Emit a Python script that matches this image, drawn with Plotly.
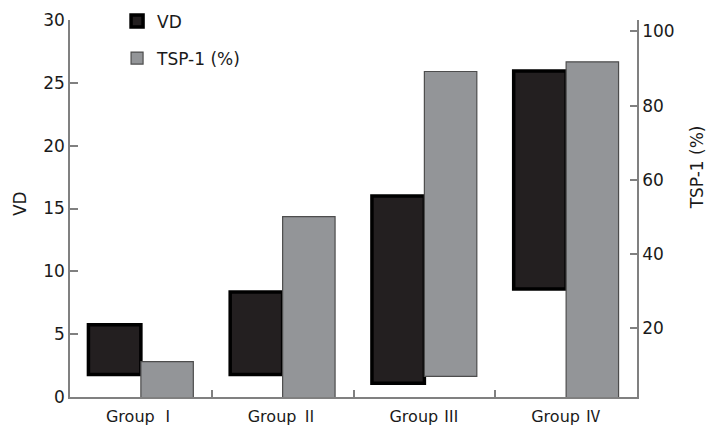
import plotly.graph_objects as go

groups = ["Group Ⅰ", "Group Ⅱ", "Group Ⅲ", "Group Ⅳ"]
vd_low = [1.8, 1.8, 1.1, 8.6]
vd_high = [5.75, 8.35, 16.0, 25.95]
tsp_low = [0, 0, 6.9, 0]
tsp_high = [10.9, 50.0, 89.2, 91.8]

left_ticks = [0, 5, 10, 15, 20, 25, 30]
right_ticks = [20, 40, 60, 80, 100]

FONT = "DejaVu Sans"
AXC = "#808080"


def tick_label(g):
    word, num = g.split(" ")
    return word + " <span style=\"font-family:'Noto Sans CJK SC'\">" + num + "</span>"


fig = go.Figure()
fig.add_trace(go.Bar(
    x=groups, y=[h - l for h, l in zip(vd_high, vd_low)], base=vd_low,
    name="VD", width=0.37, offset=-0.37,
    marker=dict(color="#231f20", line=dict(color="#000000", width=3.5)),
    legendgroup="a", yaxis="y",
))
fig.add_trace(go.Bar(
    x=groups, y=[h - l for h, l in zip(tsp_high, tsp_low)], base=tsp_low,
    name="TSP-1 (%)", width=0.37, offset=0,
    marker=dict(color="#939598", line=dict(color="#4d4d4d", width=1.2)),
    legendgroup="b", yaxis="y2",
))

fig.update_layout(
    width=716, height=432,
    margin=dict(l=62, r=87, t=12, b=43, autoexpand=False),
    plot_bgcolor="white", paper_bgcolor="white",
    font=dict(family=FONT, size=17, color="#1a1a1a"),
    barmode="overlay",
    showlegend=True,
    legend=dict(x=0.083, y=1.044, xanchor="left", yanchor="top",
                traceorder="grouped", tracegroupgap=12,
                font=dict(family=FONT, size=17), bgcolor="rgba(0,0,0,0)"),
    xaxis=dict(range=[-0.5, 3.5], showline=True, linecolor=AXC, linewidth=1.5,
               ticks="inside", tickson="boundaries", ticklen=7, tickcolor=AXC,
               tickwidth=1.5, tickfont=dict(size=16), showgrid=False, zeroline=False,
               tickmode="array", tickvals=groups, ticktext=[tick_label(g) for g in groups],
               ticklabelstandoff=4, automargin=False),
    yaxis=dict(range=[0, 30], tickvals=left_ticks, showline=True, linecolor=AXC,
               linewidth=1.5, ticks="inside", ticklen=8, tickcolor=AXC, tickwidth=1.5,
               showgrid=False, zeroline=False, automargin=False,
               ticklabeloverflow="allow"),
    yaxis2=dict(range=[1.33, 103.1], tickvals=right_ticks, overlaying="y", side="right",
                showline=True, linecolor=AXC, linewidth=1.5, ticks="inside", ticklen=7,
                tickcolor=AXC, tickwidth=1.5, showgrid=False, zeroline=False,
                automargin=False, ticklabeloverflow="allow"),
    annotations=[
        dict(text="VD", x=-0.088, y=0.512, xref="paper", yref="paper",
             xanchor="center", yanchor="middle",
             textangle=-90, showarrow=False, font=dict(size=17)),
        dict(text="TSP-1 (%)", x=1.1064, y=0.61, xref="paper", yref="paper",
             xanchor="center", yanchor="middle",
             textangle=-90, showarrow=False, font=dict(size=17)),
    ],
)

fig.write_html("out.html")
